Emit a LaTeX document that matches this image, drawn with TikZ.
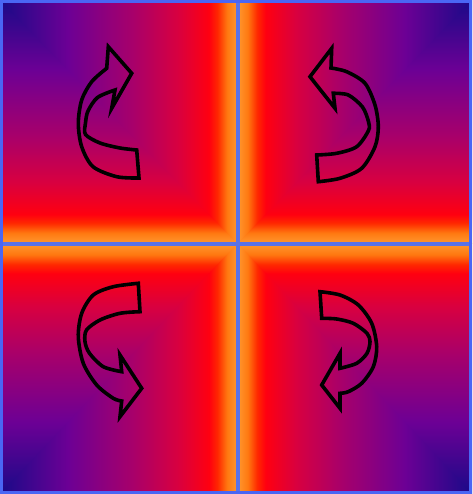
\documentclass[tikz,border=0pt]{standalone}
\usepackage{xcolor}
\usetikzlibrary{arrows.meta}
\definecolor{amber}{HTML}{FF9830}
\definecolor{tangerine}{HTML}{FF7810}
\definecolor{flame}{HTML}{FF2800}
\definecolor{scarlet}{HTML}{FF0010}
\definecolor{crimson}{HTML}{D80040}
\definecolor{berry}{HTML}{A8006A}
\definecolor{violet}{HTML}{6C0095}
\definecolor{indigo}{HTML}{1A0A88}
\definecolor{gridblue}{HTML}{5A72E8}
\definecolor{edgeblue}{HTML}{4A66F4}
\pgfdeclarehorizontalshading{heat}{100bp}{color(0bp)=(amber); color(25bp)=(amber); color(27.2bp)=(tangerine); color(29.2bp)=(flame); color(31bp)=(scarlet); color(37.6bp)=(crimson); color(47bp)=(berry); color(60.7bp)=(violet); color(75bp)=(indigo); color(100bp)=(indigo)}

\begin{document}
\begin{tikzpicture}[x=1pt,y=-1pt,
wedge/.style={shading=heat,shading angle=#1},
turn/.style={draw=black,line width=3.6pt},
rule/.style={draw=gridblue,line width=4pt}]
\useasboundingbox (0,0) rectangle (472,494);
\coordinate (c) at (237.5,243.5);

% quadrants
\shade[wedge=90] (0,0) rectangle (c);
\shade[wedge=180] (0,0) -- (237.5,0) -- (c) -- cycle;
\shade[wedge=90] (237.5,0) rectangle (472,243.5);
\shade[wedge=0] (237.5,0) -- (472,0) -- (c) -- cycle;
\shade[wedge=270] (0,243.5) rectangle (237.5,494);
\shade[wedge=180] (0,494) -- (237.5,494) -- (c) -- cycle;
\shade[wedge=270] (c) rectangle (472,494);
\shade[wedge=0] (472,494) -- (237.5,494) -- (c) -- cycle;

\draw[rule] (237.5,0) -- (237.5,494);
\draw[rule] (0,243.5) -- (472,243.5);
\draw[draw=edgeblue,line width=3pt] (1.5,1.5) rectangle (470.5,492.5);

% arrows
\draw[turn] plot[smooth] coordinates {(139,178) (116.7,176.7) (93,166.7) (81.7,146.7) (78.3,123.3) (81.7,100) (91.7,81.7) (106.7,68.3)}
  -- (108.3,46.7) -- (131.7,73.3) -- (111.7,108.3) -- (115,90)
  -- plot[smooth] coordinates {(115,90) (97.5,97.5) (88,111) (85.5,123) (85.5,134.5) (100,143) (120,148) (136.7,150)} -- cycle;
\draw[turn] plot[smooth] coordinates {(318.3,181.7) (340,178.3) (361.7,168.3) (375,146.7) (378.3,126.7) (375,105) (365,83.3) (346.7,71.7) (331,68)}
  -- (331.7,48.3) -- (310,76.7) -- (335,108.3) -- (333.3,93.3)
  -- plot[smooth] coordinates {(333.3,93.3) (348.3,95) (362.5,107) (368.5,121.7) (368.5,130.5) (356.7,146.7) (336.7,153.3) (316.7,155)} -- cycle;
\draw[turn] plot[smooth] coordinates {(138.3,283.3) (113.3,286.7) (93.3,295) (81.7,313.3) (78.3,336.7) (83.3,363.3) (96.7,385) (113.3,398.3) (121.7,401)}
  -- (120,416.7) -- (141.7,388.3) -- (120,355) -- (121.7,371.7)
  -- plot[smooth] coordinates {(121.7,371.7) (103.3,366.7) (89.5,353.3) (85,341.7) (86.5,330) (100,320) (120,313.3) (140,311.7)} -- cycle;
\draw[turn] plot[smooth] coordinates {(320,291.7) (340,295) (358.3,305) (371.7,323.3) (376.7,346.7) (373.3,366.7) (361.7,383.3) (348.3,391.7) (340,393.3)}
  -- (340,408.3) -- (321.7,385) -- (340,353.3) -- (340,368.3)
  -- plot[smooth] coordinates {(340,368.3) (356.7,363.3) (367,353.3) (370,341.7) (367,333.3) (353.3,323.3) (336.7,319) (321.7,318.3)} -- cycle;
\end{tikzpicture}
\end{document}
